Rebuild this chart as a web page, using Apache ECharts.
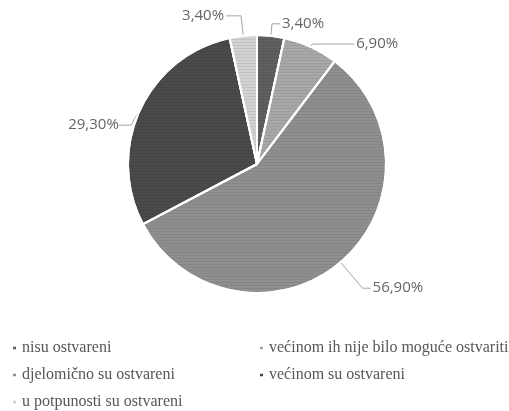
<!DOCTYPE html>
<html>
<head>
<meta charset="utf-8">
<script src="https://cdn.jsdelivr.net/npm/echarts@6/dist/echarts.min.js"></script>
<style>
  html, body { margin: 0; padding: 0; background: #ffffff; }
  #chart { width: 509px; height: 411px; }
</style>
</head>
<body>
<div id="chart"></div>
<script>
// Categories and shares (percent), in clockwise order from 12 o'clock
var categories = [
  'nisu ostvareni',
  'većinom ih nije bilo moguće ostvariti',
  'djelomično su ostvareni',
  'većinom su ostvareni',
  'u potpunosti su ostvareni'
];
var shares = [3.4, 6.9, 56.9, 29.3, 3.4];

// Legend is laid out in two columns, filled row by row
var legendLeftColumn = [categories[0], categories[2], categories[4]];
var legendRightColumn = [categories[1], categories[3]];

// Slice fills
var sliceColors = ['#5f5f5f', '#a8a8a8', '#8f8f8f', '#4a4a4a', '#d2d2d2'];
// Leader line lengths per slice: [radial segment, horizontal segment]
var leaderLengths = [[12, 8], [3, 42], [34, 8], [8, 12], [20, 15]];

// Fine horizontal hatching over every slice
var hatch = {
  symbol: 'rect',
  symbolSize: 1,
  dashArrayX: [[1, 0]],
  dashArrayY: [1, 2],
  rotation: 0,
  color: 'rgba(0, 0, 0, 0.07)'
};

var chart = echarts.init(document.getElementById('chart'), null, { renderer: 'canvas' });

var pieData = categories.map(function (name, i) {
  return {
    name: name,
    value: shares[i],
    itemStyle: { color: sliceColors[i], decal: hatch },
    labelLine: { length: leaderLengths[i][0], length2: leaderLengths[i][1] }
  };
});

var legendText = {
  fontFamily: '"Liberation Serif", serif',
  fontSize: 16,
  color: '#575757'
};

function makeLegend(left, names) {
  return {
    left: left,
    top: 340,
    height: 100,
    orient: 'vertical',
    icon: 'rect',
    itemWidth: 5,
    itemHeight: 5,
    itemGap: 11,
    padding: 0,
    selectedMode: false,
    data: names,
    textStyle: legendText
  };
}

chart.setOption({
  animation: false,
  backgroundColor: '#ffffff',
  color: sliceColors,
  legend: [makeLegend(11, legendLeftColumn), makeLegend(258, legendRightColumn)],
  series: [{
    type: 'pie',
    center: [257, 164],
    radius: [0, 129],
    startAngle: 90,
    clockwise: true,
    avoidLabelOverlap: false,
    data: pieData,
    itemStyle: { borderColor: '#ffffff', borderWidth: 2 },
    label: {
      show: true,
      position: 'outside',
      distanceToLabelLine: 2,
      fontFamily: '"Open Sans", sans-serif',
      fontSize: 15,
      color: '#666666',
      formatter: function (p) {
        return p.value.toFixed(2).replace('.', ',') + '%';
      }
    },
    labelLine: {
      show: true,
      smooth: false,
      lineStyle: { color: '#a6a6a6', width: 1 }
    },
    labelLayout: function (params) {
      // drop the left-hand label a little below its slice edge;
      // the leader line is re-routed to the moved label
      if (params.dataIndex === 3) {
        var r = params.labelRect;
        return {
          x: r.x + r.width,
          y: r.y + r.height / 2 + 19,
          align: 'right',
          verticalAlign: 'middle'
        };
      }
    },
    emphasis: { disabled: true }
  }]
});
</script>
</body>
</html>
